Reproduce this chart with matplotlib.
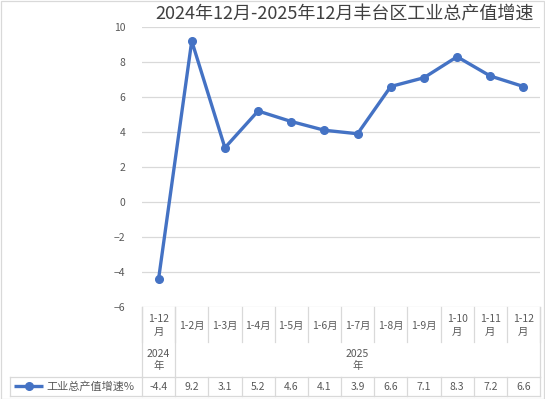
import numpy as np
import matplotlib.pyplot as plt
import matplotlib.transforms as mtransforms
from matplotlib.lines import Line2D

plt.rcParams['font.family'] = ['Noto Sans CJK SC', 'DejaVu Sans']

# data
months = ['1-12\n月', '1-2月', '1-3月', '1-4月', '1-5月', '1-6月', '1-7月',
          '1-8月', '1-9月', '1-10\n月', '1-11\n月', '1-12\n月']
years = ['2024\n年', '2025\n年']
year_span = [(0, 0), (1, 11)]
values = [-4.4, 9.2, 3.1, 5.2, 4.6, 4.1, 3.9, 6.6, 7.1, 8.3, 7.2, 6.6]
series_name = '工业总产值增速%'
title = '2024年12月-2025年12月丰台区工业总产值增速'

W, H = 545, 399
blue = '#4472C4'
grid_c = '#D9D9D9'
txt_c = '#595959'

fig = plt.figure(figsize=(W / 100, H / 100), dpi=100)
# plot area in pixels
x0, x1 = 142, 540
y_top, y_bot = 27, 307
ax = fig.add_axes([x0 / W, 1 - y_bot / H, (x1 - x0) / W, (y_bot - y_top) / H])

x = np.arange(len(values))
ax.plot(x, values, color=blue, lw=2.4, marker='o', ms=5.5, solid_joinstyle='round', zorder=3)
ax.set_xlim(-0.5, len(values) - 0.5)
ax.set_ylim(-6, 10)
ax.set_yticks(np.arange(-6, 11, 2))
ax.yaxis.grid(True, color=grid_c, lw=0.9)
ax.set_xticks([])
ax.tick_params(axis='y', length=0, labelsize=7.5, labelcolor=txt_c, pad=12)
for s in ax.spines.values():
    s.set_visible(False)

fig.text(345 / W, 1 - 14 / H, title, ha='center', va='center', fontsize=13, color='#404040')

# table below plot
def fy(py):
    return 1 - py / H

def fx(px):
    return px / W

trans = mtransforms.blended_transform_factory(ax.transData, fig.transFigure)
n = len(values)
row1_bot = 342
row2_bot = 377
row3_bot = 396
legend_left = 10

def vline(px, ya, yb):
    fig.add_artist(Line2D([fx(px), fx(px)], [fy(ya), fy(yb)], color=grid_c, lw=0.9))

def hline(xa, xb, py):
    fig.add_artist(Line2D([fx(xa), fx(xb)], [fy(py), fy(py)], color=grid_c, lw=0.9))

colw = (x1 - x0) / n
# category row separators
for i in range(n + 1):
    vline(x0 + i * colw, y_bot, row1_bot)
# year group separators
for a, b in year_span:
    vline(x0 + a * colw, y_bot, row2_bot)
vline(x1, y_bot, row2_bot)
# legend row box
hline(legend_left, x1, row2_bot)
hline(legend_left, x1, row3_bot)
vline(legend_left, row2_bot, row3_bot)
for i in range(n + 1):
    vline(x0 + i * colw, row2_bot, row3_bot)

for i, m in enumerate(months):
    ax.text(i, fy((y_bot + row1_bot) / 2 + 1), m, transform=trans, ha='center', va='center',
            fontsize=7.5, color=txt_c, linespacing=1.3)
for (a, b), yr in zip(year_span, years):
    ax.text((a + b) / 2, fy(360), yr, transform=trans, ha='center', va='center',
            fontsize=7.5, color=txt_c, linespacing=1.3)
for i, v in enumerate(values):
    ax.text(i, fy(387), f'{v}', transform=trans, ha='center', va='center',
            fontsize=7.5, color=txt_c)

fig.add_artist(Line2D([fx(14), fx(43)], [fy(386), fy(386)], color=blue, lw=2.4,
                      solid_capstyle='butt'))
fig.add_artist(Line2D([fx(29)], [fy(386)], color=blue, marker='o', ms=5.5))
fig.text(fx(46), fy(387), series_name, ha='left', va='center', fontsize=8, color=txt_c)

# outer border
fig.add_artist(plt.Rectangle((0.001, 0.001), 0.997, 0.997, transform=fig.transFigure,
                             fill=False, ec=grid_c, lw=0.9))

fig.savefig('out.png', dpi=100)
